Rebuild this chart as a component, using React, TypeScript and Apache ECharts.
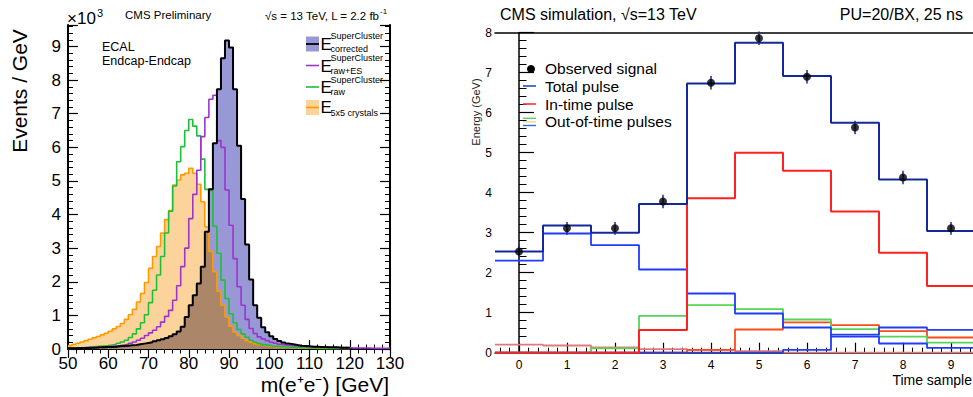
import React, { useEffect, useRef } from "react";
import * as echarts from "echarts";

const FONT = "'Liberation Sans', Arial, Helvetica, sans-serif";

// ---------- left panel: m(e+e-) histograms, 1 GeV bins starting at 50 GeV ----------
const massFirstBin = 50;
const massBinWidth = 1;
// E corrected (black outline, blue fill), bins 50..119
const eCorrected = [
  0.02, 0.02, 0.03, 0.03, 0.03, 0.04, 0.04, 0.05, 0.05, 0.06,
  0.06, 0.07, 0.08, 0.09, 0.10, 0.11, 0.12, 0.14, 0.16, 0.18,
  0.20, 0.23, 0.26, 0.29, 0.33, 0.38, 0.44, 0.52, 0.66, 0.95,
  1.30, 1.60, 1.95, 2.45, 3.49, 4.75, 6.12, 7.73, 8.65, 9.18,
  8.97, 7.73, 6.05, 4.46, 3.11, 2.07, 1.30, 0.93, 0.65, 0.50,
  0.38, 0.30, 0.24, 0.19, 0.16, 0.14, 0.12, 0.10, 0.09, 0.08,
  0.07, 0.07, 0.06, 0.06, 0.05, 0.05, 0.05, 0.04, 0.04, 0.04,
];
// E raw+ES (purple), bins 50..129
const eRawES = [
  0.02, 0.02, 0.03, 0.03, 0.04, 0.04, 0.05, 0.05, 0.06, 0.07,
  0.08, 0.09, 0.10, 0.12, 0.14, 0.17, 0.21, 0.26, 0.32, 0.40,
  0.48, 0.56, 0.66, 0.80, 0.97, 1.15, 1.45, 1.88, 2.45, 3.00,
  3.88, 4.60, 5.32, 6.32, 6.89, 7.43, 7.55, 6.20, 6.00, 4.73,
  3.68, 2.69, 1.85, 1.30, 0.88, 0.61, 0.46, 0.36, 0.30, 0.25,
  0.20, 0.17, 0.14, 0.12, 0.11, 0.10, 0.09, 0.08, 0.08, 0.07,
  0.07, 0.06, 0.06, 0.05, 0.05, 0.05, 0.04, 0.04, 0.04, 0.04,
  0.03, 0.03, 0.03, 0.03, 0.03, 0.02, 0.02, 0.02, 0.02, 0.02,
];
// E raw (green), bins 50..119
const eRaw = [
  0.02, 0.03, 0.03, 0.04, 0.05, 0.06, 0.07, 0.08, 0.09, 0.10,
  0.12, 0.14, 0.17, 0.21, 0.26, 0.34, 0.45, 0.60, 0.78, 1.02,
  1.38, 1.75, 2.20, 2.75, 3.45, 4.10, 4.85, 5.57, 6.02, 6.50,
  6.83, 6.63, 6.34, 5.65, 4.75, 4.72, 3.65, 2.85, 2.05, 1.50,
  1.05, 0.78, 0.58, 0.45, 0.35, 0.26, 0.20, 0.16, 0.13, 0.11,
  0.09, 0.08, 0.07, 0.06, 0.05, 0.05, 0.04, 0.04, 0.04, 0.03,
  0.03, 0.03, 0.03, 0.02, 0.02, 0.02, 0.02, 0.02, 0.02, 0.02,
];
// E 5x5 crystals (orange), bins 50..119
const e5x5 = [
  0.10, 0.14, 0.17, 0.21, 0.25, 0.29, 0.33, 0.37, 0.42, 0.47,
  0.53, 0.60, 0.67, 0.76, 0.88, 1.02, 1.18, 1.40, 1.65, 1.98,
  2.40, 2.75, 3.05, 3.45, 3.85, 4.12, 4.88, 5.03, 5.18, 5.23,
  5.38, 5.23, 4.90, 4.38, 3.63, 2.90, 2.30, 1.72, 1.30, 0.95,
  0.68, 0.50, 0.40, 0.32, 0.25, 0.20, 0.16, 0.13, 0.11, 0.09,
  0.08, 0.07, 0.06, 0.05, 0.05, 0.04, 0.04, 0.03, 0.03, 0.03,
  0.03, 0.02, 0.02, 0.02, 0.02, 0.02, 0.02, 0.02, 0.02, 0.02,
];

// ---------- right panel: pulse vs time sample ----------
const timeSamples = [0, 1, 2, 3, 4, 5, 6, 7, 8, 9];
const observed = [2.53, 3.11, 3.11, 3.78, 6.75, 7.86, 6.9, 5.63, 4.38, 3.11];
const observedErr = [0.17, 0.16, 0.16, 0.17, 0.17, 0.17, 0.17, 0.17, 0.17, 0.16];
const totalPulse = [2.53, 3.18, 3.0, 3.72, 6.73, 7.75, 6.92, 5.75, 4.33, 3.04];
const inTimePulse = [0, 0, 0, 0.57, 3.86, 5.0, 4.55, 3.53, 2.5, 1.67];
const ootBlueEarly = [2.3, 2.98, 2.69, 2.08, 1.48, 0.98, 0.63, 0.4, 0.23, 0.12];
const ootGreen = [0, 0, 0.11, 0.92, 1.19, 1.09, 0.83, 0.59, 0.4, 0.25];
const ootOrange = [0, 0, 0, 0, 0.07, 0.58, 0.76, 0.69, 0.54, 0.38];
const ootBlueLate = [0, 0, 0, 0, 0, 0, 0.07, 0.45, 0.63, 0.57];
const ootSalmon = [0.2, 0.18, 0.13, 0.09, 0.07, 0.04, 0, 0, 0, 0];
const timeLabels = ["0", "1", "2", "3", "4", "5", "6", "7", "8", "9"];

function stepData(first: number, width: number, vals: number[]) {
  const d: number[][] = vals.map((v, i) => [first + i * width, v]);
  d.push([first + vals.length * width, vals[vals.length - 1]]);
  return d;
}

function txt(text: string, x: number, y: number, size: number, extra: any = {}) {
  const align = extra.align || "left";
  const rotation = extra.rotation || 0;
  return {
    type: "text",
    x,
    y,
    rotation,
    silent: true,
    z: 100,
    style: {
      text,
      fontSize: size,
      fontFamily: FONT,
      fill: extra.fill || "#000",
      textAlign: align,
      textVerticalAlign: "middle",
      align,
      verticalAlign: "middle",
    },
  };
}

function hline(x1: number, x2: number, y: number, color: string, w = 1.6) {
  return {
    type: "line",
    silent: true,
    z: 100,
    shape: { x1, y1: y, x2, y2: y },
    style: { stroke: color, lineWidth: w },
  };
}

export default function App() {
  const ref = useRef<HTMLDivElement>(null);

  useEffect(() => {
    document.body.style.margin = "0";
    if (!ref.current) return;
    const chart = echarts.init(ref.current, null, { renderer: "svg" });

    const overlap = eCorrected.map((v, i) => Math.min(v, e5x5[i]));
    const minorTimeTicks: number[] = [];
    for (let k = -2; k <= 47; k++) {
      const v = Math.round(k * 0.2 * 10) / 10;
      if (Math.abs(v - Math.round(v)) > 1e-6) minorTimeTicks.push(v);
    }

    const axisLineStyle = { color: "#000", width: 2 };
    const lineBase = (data: number[][], color: string, width: number, xi: number, yi: number, z: number) => ({
      type: "line",
      step: "end",
      data,
      xAxisIndex: xi,
      yAxisIndex: yi,
      symbol: "none",
      silent: true,
      z,
      lineStyle: { color, width },
    });
    const areaBase = (data: number[][], color: string, z: number) => ({
      type: "line",
      step: "end",
      data,
      xAxisIndex: 0,
      yAxisIndex: 0,
      symbol: "none",
      silent: true,
      z,
      lineStyle: { opacity: 0, width: 0 },
      areaStyle: { color, opacity: 1 },
    });

    const legendE = (y: number, sup: string | null, sub: string) => {
      const els: any[] = [txt("E", 320.5, y, 17)];
      if (sup) els.push(txt(sup, 330.5, y - 8, 9));
      els.push(txt(sub, 330.5, y + 4.8, 9));
      return els;
    };

    const graphic: any[] = [
      // left panel header
      txt("×10", 67, 18, 17),
      txt("3", 97, 12.5, 11),
      txt("CMS Preliminary", 125, 15, 11.5),
      txt("√s = 13 TeV, L = 2.2 fb", 379, 15.5, 11.5, { align: "right" }),
      txt("-1", 380, 11, 8),
      txt("ECAL", 102, 47, 12.5),
      txt("Endcap-Endcap", 102, 61, 12.5),
      // left legend
      { type: "rect", silent: true, z: 99, shape: { x: 306, y: 36.5, width: 13, height: 15 }, style: { fill: "#9898d6" } },
      hline(306, 319, 44, "#000", 1.8),
      ...legendE(44, "SuperCluster", "corrected"),
      hline(306, 319, 65.5, "#9b35cc"),
      ...legendE(66, "SuperCluster", "raw+ES"),
      hline(306, 319, 87, "#1fbf3a"),
      ...legendE(87.5, "SuperCluster", "raw"),
      { type: "rect", silent: true, z: 99, shape: { x: 306, y: 100, width: 13, height: 15 }, style: { fill: "#fdd39c" } },
      hline(306, 319, 107.5, "#ff9a00"),
      txt("E", 320.5, 107.5, 17),
      txt("5x5 crystals", 330.5, 113, 9),
      // left axis titles
      txt("Events / GeV", 19, 91, 21, { align: "center", rotation: Math.PI / 2 }),
      txt("m(e⁺e⁻) [GeV]", 389, 384, 21, { align: "right" }),
      // right panel header
      txt("CMS simulation, √s=13 TeV", 500, 14, 16),
      txt("PU=20/BX, 25 ns", 963, 14, 16, { align: "right" }),
      // right legend
      { type: "circle", silent: true, z: 100, shape: { cx: 531, cy: 69, r: 4 }, style: { fill: "#000" } },
      txt("Observed signal", 545, 68.5, 15.5),
      hline(523, 536, 86, "#2050c8"),
      txt("Total pulse", 545, 86, 15.5),
      hline(523, 536, 104, "#ff3030"),
      txt("In-time pulse", 545, 104, 15.5),
      hline(523, 536, 118.3, "#55d455", 1.4),
      hline(523, 536, 121.8, "#ffd0a0", 1.4),
      hline(523, 536, 125.5, "#2a6af0", 1.4),
      txt("Out-of-time pulses", 545, 121.7, 15.5),
      // right axis titles
      txt("Time sample", 972, 380, 14, { align: "right" }),
      txt("Energy (GeV)", 476, 112, 11, { align: "center", rotation: Math.PI / 2, fill: "#222" }),
    ];

    const option: any = {
      animation: false,
      backgroundColor: "#fff",
      textStyle: { fontFamily: FONT },
      grid: [
        { left: 68, top: 25, width: 322, height: 324, containLabel: false, outerBoundsMode: "none" },
        { left: 495, top: 32.7, width: 480, height: 320, containLabel: false, outerBoundsMode: "none" },
      ],
      xAxis: [
        {
          gridIndex: 0, type: "value", position: "bottom", min: 50, max: 130, interval: 10,
          axisLine: { show: true, lineStyle: axisLineStyle },
          axisTick: { show: true, inside: true, length: 9, lineStyle: { color: "#000", width: 1.2 } },
          minorTick: { show: true, splitNumber: 5, length: 4.5, lineStyle: { color: "#000", width: 1 } },
          axisLabel: { show: true, fontSize: 17, color: "#000", margin: 6, fontFamily: FONT },
          splitLine: { show: false },
        },
        {
          gridIndex: 0, type: "value", position: "top", min: 50, max: 130, interval: 10,
          axisLine: { show: true, lineStyle: axisLineStyle },
          axisTick: { show: true, inside: true, length: 9, lineStyle: { color: "#000", width: 1.2 } },
          minorTick: { show: true, splitNumber: 5, length: 4.5, lineStyle: { color: "#000", width: 1 } },
          axisLabel: { show: false },
          splitLine: { show: false },
        },
        {
          gridIndex: 1, type: "value", position: "bottom", min: -0.5, max: 9.5,
          axisLine: { show: true, lineStyle: { color: "#000", width: 1.5 } },
          axisTick: { show: true, inside: true, length: 10, customValues: timeSamples, lineStyle: { color: "#000", width: 1.2 } },
          axisLabel: { show: true, customValues: timeSamples, formatter: (v: number) => timeLabels[Math.round(v)] ?? "", fontSize: 12, color: "#000", margin: 6, fontFamily: FONT },
          splitLine: { show: false },
        },
        {
          gridIndex: 1, type: "value", position: "bottom", min: -0.5, max: 9.5,
          axisLine: { show: false },
          axisTick: { show: true, inside: true, length: 5, customValues: minorTimeTicks, lineStyle: { color: "#000", width: 1 } },
          axisLabel: { show: false },
          splitLine: { show: false },
        },
        {
          gridIndex: 1, type: "value", position: "top", min: -0.5, max: 9.5,
          axisLine: { show: true, lineStyle: { color: "#000", width: 1.5 } },
          axisTick: { show: false },
          axisLabel: { show: false },
          splitLine: { show: false },
        },
      ],
      yAxis: [
        {
          gridIndex: 0, type: "value", position: "left", min: 0, max: 9.64, interval: 1,
          axisLine: { show: true, lineStyle: axisLineStyle },
          axisTick: { show: true, inside: true, length: 10, lineStyle: { color: "#000", width: 1.2 } },
          minorTick: { show: true, splitNumber: 5, length: 5, lineStyle: { color: "#000", width: 1 } },
          axisLabel: { show: true, showMaxLabel: false, fontSize: 17, color: "#000", margin: 7, fontFamily: FONT },
          splitLine: { show: false },
        },
        {
          gridIndex: 0, type: "value", position: "right", min: 0, max: 9.64, interval: 1,
          axisLine: { show: true, lineStyle: axisLineStyle },
          axisTick: { show: true, inside: true, length: 10, lineStyle: { color: "#000", width: 1.2 } },
          minorTick: { show: true, splitNumber: 5, length: 5, lineStyle: { color: "#000", width: 1 } },
          axisLabel: { show: false },
          splitLine: { show: false },
        },
        {
          gridIndex: 1, type: "value", position: "left", min: 0, max: 8, interval: 1,
          axisLine: { show: true, lineStyle: { color: "#000", width: 1.5 } },
          axisTick: { show: true, inside: true, length: 15, lineStyle: { color: "#000", width: 1.2 } },
          minorTick: { show: true, splitNumber: 5, length: 7.5, lineStyle: { color: "#000", width: 1 } },
          axisLabel: { show: true, fontSize: 12, color: "#000", margin: 3, fontFamily: FONT },
          splitLine: { show: false },
        },
      ],
      series: [
        // left: filled areas
        areaBase(stepData(massFirstBin, massBinWidth, eCorrected), "#9898d6", 1),
        areaBase(stepData(massFirstBin, massBinWidth, e5x5), "#fdd39c", 2),
        areaBase(stepData(massFirstBin, massBinWidth, overlap), "#ab8669", 3),
        // left: outlines
        lineBase(stepData(massFirstBin, massBinWidth, e5x5), "#ff9a00", 1.6, 0, 0, 4),
        lineBase(stepData(massFirstBin, massBinWidth, eRaw), "#1fbf3a", 1.6, 0, 0, 5),
        lineBase(stepData(massFirstBin, massBinWidth, eRawES), "#9b35cc", 1.6, 0, 0, 6),
        lineBase(stepData(massFirstBin, massBinWidth, eCorrected), "#000000", 2, 0, 0, 7),
        // right: pulses
        lineBase(stepData(-0.5, 1, ootSalmon), "#e07a7a", 1.8, 2, 2, 2),
        lineBase(stepData(-0.5, 1, ootOrange), "#ff4a1a", 1.8, 2, 2, 3),
        lineBase(stepData(-0.5, 1, ootGreen), "#55d455", 1.8, 2, 2, 4),
        lineBase(stepData(-0.5, 1, ootBlueLate), "#2040f0", 1.8, 2, 2, 5),
        lineBase(stepData(-0.5, 1, ootBlueEarly), "#1f3bff", 1.8, 2, 2, 6),
        lineBase(stepData(-0.5, 1, inTimePulse), "#ff2020", 2, 2, 2, 7),
        lineBase(stepData(-0.5, 1, totalPulse), "#14289a", 2, 2, 2, 8),
        {
          type: "custom",
          xAxisIndex: 2,
          yAxisIndex: 2,
          silent: true,
          z: 9,
          data: observed.map((v, i) => [timeSamples[i], v, observedErr[i]]),
          encode: { x: 0, y: 1 },
          renderItem: (params: any, api: any) => {
            const x = api.value(0);
            const y = api.value(1);
            const e = api.value(2);
            const p1 = api.coord([x, y + e]);
            const p2 = api.coord([x, y - e]);
            return {
              type: "line",
              shape: { x1: p1[0], y1: p1[1], x2: p2[0], y2: p2[1] },
              style: { stroke: "#1a2a9a", lineWidth: 1.5 },
            };
          },
        },
        {
          type: "scatter",
          xAxisIndex: 2,
          yAxisIndex: 2,
          silent: true,
          z: 10,
          symbol: "circle",
          symbolSize: 8,
          itemStyle: { color: "#000" },
          data: observed.map((v, i) => [timeSamples[i], v]),
        },
      ],
      graphic,
    };

    chart.setOption(option);
    return () => {
      chart.dispose();
    };
  }, []);

  return <div ref={ref} style={{ width: 973, height: 397 }} />;
}
